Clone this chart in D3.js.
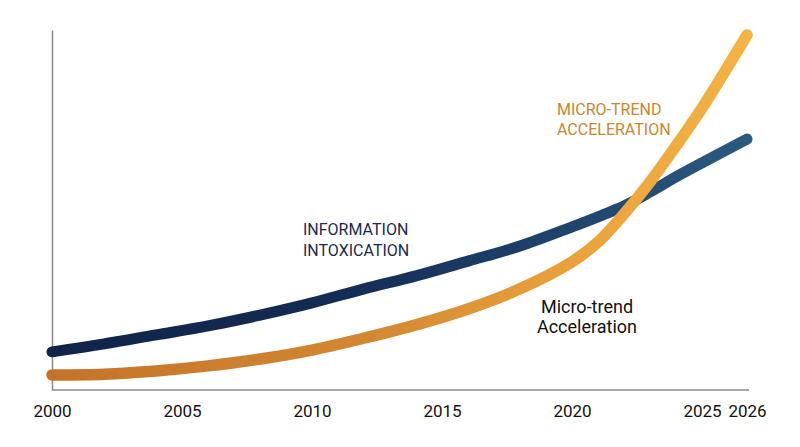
<!DOCTYPE html>
<html lang="en">
<head>
    <meta charset="UTF-8">
    <title>Information Intoxication vs Micro-trend Acceleration</title>
    <script src="https://d3js.org/d3.v7.min.js"></script>
    <style>
        body {
            margin: 0;
            padding: 0;
            background: white;
            font-family: Roboto, 'Noto Sans', sans-serif;
        }
        #chart svg {
            display: block;
        }
        .axis path {
            stroke: #8a8a8a;
            stroke-width: 1.5;
        }
        .axis text {
            font-family: Roboto, 'Noto Sans', sans-serif;
            font-size: 17px;
            fill: #111;
        }
    </style>
</head>
<body>
    <div id="chart"></div>

    <script type="text/javascript">
        // values (0-100 index scale)
        const years = [2000, 2002, 2004, 2006, 2008, 2010, 2012, 2014, 2016, 2018, 2020, 2021, 2022, 2023, 2024, 2025, 2026];
        const infoIntox = [10.6, 12.8, 15.3, 17.8, 20.8, 24.2, 28.1, 31.7, 35.8, 40.0, 45.3, 48.1, 51.1, 55.0, 59.2, 63.1, 69.7];
        const microTrend = [4.2, 4.4, 5.3, 6.7, 8.6, 11.1, 14.4, 18.1, 22.5, 28.1, 35.6, 41.1, 48.9, 57.8, 67.8, 78.3, 98.6];
        const tickYears = [2000, 2005, 2010, 2015, 2020, 2025, 2026];

        const width = 800;
        const height = 447;

        const svg = d3.select("#chart").append("svg")
            .attr("width", width)
            .attr("height", height);

        // last year is squeezed onto the end of the axis, like the original
        const x = d3.scaleLinear()
            .domain([2000, 2025, 2026])
            .range([52, 702, 747]);

        const y = d3.scaleLinear()
            .domain([0, 100])
            .range([390, 30]);

        // gradients along each line
        const defs = svg.append("defs");
        function addGradient(id, stops) {
            const g = defs.append("linearGradient")
                .attr("id", id)
                .attr("gradientUnits", "userSpaceOnUse")
                .attr("x1", x(2000)).attr("y1", 0)
                .attr("x2", x(2026)).attr("y2", 0);
            stops.forEach(s => {
                g.append("stop").attr("offset", s[0]).attr("stop-color", s[1]);
            });
        }
        addGradient("navyGrad", [["0%", "#10244a"], ["40%", "#142b52"], ["75%", "#1f456d"], ["100%", "#2a5a80"]]);
        addGradient("orangeGrad", [["0%", "#c47428"], ["45%", "#d28732"], ["75%", "#eaa23c"], ["100%", "#f4b342"]]);

        // axes
        svg.append("g")
            .attr("class", "axis")
            .attr("transform", `translate(0,${y(0)})`)
            .call(d3.axisBottom(x).tickValues(tickYears).tickFormat(d3.format("d")).tickSize(0).tickPadding(15))
            .call(g => g.select(".domain").attr("d", `M${x(2000)},0H${x(2026) + 2}`));

        svg.append("g")
            .attr("class", "axis")
            .attr("transform", `translate(${x(2000)},0)`)
            .call(d3.axisLeft(y).tickValues([]).tickSize(0));

        const line = d3.line()
            .x((d, i) => x(years[i]))
            .y(d => y(d))
            .curve(d3.curveCatmullRom.alpha(0.5));

        svg.append("path")
            .datum(infoIntox)
            .attr("d", line)
            .attr("fill", "none")
            .attr("stroke", "url(#navyGrad)")
            .attr("stroke-width", 11)
            .attr("stroke-linecap", "round");

        svg.append("path")
            .datum(microTrend)
            .attr("d", line)
            .attr("fill", "none")
            .attr("stroke", "url(#orangeGrad)")
            .attr("stroke-width", 11.5)
            .attr("stroke-linecap", "round");

        // labels
        function addLabel(lines, px, py, size, color, anchor, lineH) {
            const t = svg.append("text")
                .attr("x", px)
                .attr("y", py)
                .attr("text-anchor", anchor)
                .style("font-family", "Roboto, 'Noto Sans', sans-serif")
                .style("font-size", size + "px")
                .style("fill", color);
            lines.forEach((s, i) => {
                t.append("tspan")
                    .attr("x", px)
                    .attr("dy", i === 0 ? 0 : lineH)
                    .text(s);
            });
        }

        addLabel(["INFORMATION", "INTOXICATION"], 303, 235, 16, "#1b2a4c", "start", 21);
        addLabel(["MICRO-TREND", "ACCELERATION"], 557, 115, 16, "#c8862f", "start", 20);
        addLabel(["Micro-trend", "Acceleration"], 587, 313, 18, "#111", "middle", 20);
    </script>
</body>
</html>
